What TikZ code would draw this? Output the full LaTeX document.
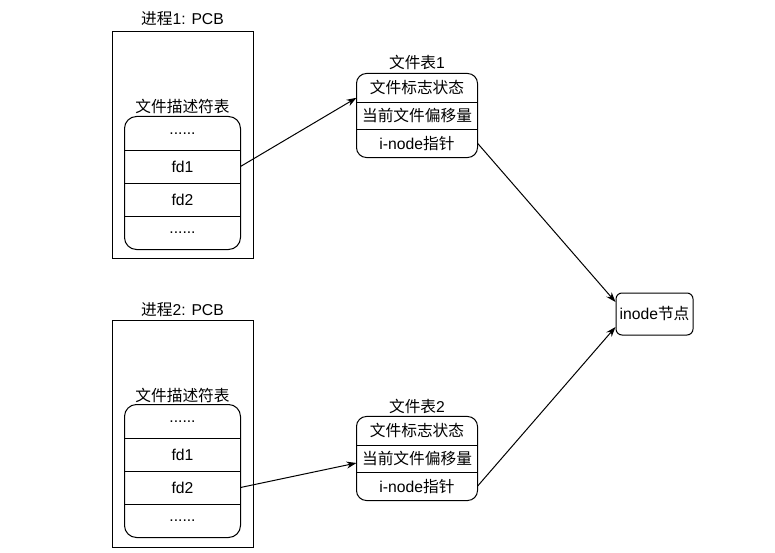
\documentclass[tikz,border=0pt]{standalone}
\usepackage{fontspec}
\setmainfont{Liberation Sans}
\newfontfamily\cjk{Noto Sans CJK SC}
\usetikzlibrary{arrows.meta}
\begin{document}
\begin{tikzpicture}[x=1pt,y=-1pt,
  font=\fontsize{15.7}{18}\selectfont,
  line width=1pt,
  fdrow/.style={rectangle, inner sep=0pt, minimum width=115pt, minimum height=33pt},
  ftrow/.style={rectangle, inner sep=0pt, minimum width=120pt, minimum height=27.67pt},
  pcbbox/.style={draw, rectangle, inner sep=0pt, minimum width=141pt, minimum height=226pt},
  lbl/.style={inner sep=0pt},
  tbl/.style={rounded corners=12pt},
  ftbl/.style={rounded corners=10pt},
  conn/.style={-{Stealth[length=10pt,width=7pt]}, line width=1pt}]
\useasboundingbox (0,0) rectangle (775,553);

% Process 1
\node[pcbbox] (pcb1) at (182.5,145) {};
\node[lbl] (pcb1t) at (182.5,19) {{\cjk 进程}1: PCB};
\node[lbl] (fdl1) at (182.5,106) {\cjk 文件描述符表};
\node[fdrow] (a1) at (182.5,133.5) {......};
\node[fdrow] (a2) at (182.5,166.5) {fd1};
\node[fdrow] (a3) at (182.5,199.5) {fd2};
\node[fdrow] (a4) at (182.5,232.5) {......};
\draw[tbl] (a1.north west) rectangle (a4.south east);
\foreach \r in {a1,a2,a3} \draw (\r.south west) -- (\r.south east);

% Process 2
\node[pcbbox, minimum height=227pt] (pcb2) at (182.5,433.5) {};
\node[lbl] (pcb2t) at (182.5,310) {{\cjk 进程}2: PCB};
\node[lbl] (fdl2) at (182.5,395) {\cjk 文件描述符表};
\node[fdrow] (b1) at (182.5,421.5) {......};
\node[fdrow] (b2) at (182.5,454.5) {fd1};
\node[fdrow] (b3) at (182.5,487.5) {fd2};
\node[fdrow] (b4) at (182.5,520.5) {......};
\draw[tbl] (b1.north west) rectangle (b4.south east);
\foreach \r in {b1,b2,b3} \draw (\r.south west) -- (\r.south east);

% File table 1
\node[lbl] (ft1t) at (417,62) {{\cjk 文件表}1};
\node[ftrow] (f1a) at (417,87.8) {\cjk 文件标志状态};
\node[ftrow] (f1b) at (417,115.5) {\cjk 当前文件偏移量};
\node[ftrow] (f1c) at (417,143.2) {i-node{\cjk 指针}};
\draw[ftbl] (f1a.north west) rectangle (f1c.south east);
\foreach \r in {f1a,f1b} \draw (\r.south west) -- (\r.south east);

% File table 2
\node[lbl] (ft2t) at (417,406) {{\cjk 文件表}2};
\node[ftrow] (g1) at (417,430.8) {\cjk 文件标志状态};
\node[ftrow] (g2) at (417,458.5) {\cjk 当前文件偏移量};
\node[ftrow] (g3) at (417,486.2) {i-node{\cjk 指针}};
\draw[ftbl] (g1.north west) rectangle (g3.south east);
\foreach \r in {g1,g2} \draw (\r.south west) -- (\r.south east);

% inode
\node[draw, rectangle, rounded corners=6pt, inner sep=0pt, minimum width=77pt, minimum height=42pt] (inode) at (654.5,314) {inode{\cjk 节点}};

% connectors
\draw[conn] (a2.east) -- ([yshift=-10pt]f1a.west);
\draw[conn] (b3.east) -- ([yshift=-4.5pt]g2.west);
\draw[conn] (f1c.east) -- ([yshift=12pt]inode.west);
\draw[conn] (g3.east) -- ([yshift=-13pt]inode.west);
\end{tikzpicture}
\end{document}
